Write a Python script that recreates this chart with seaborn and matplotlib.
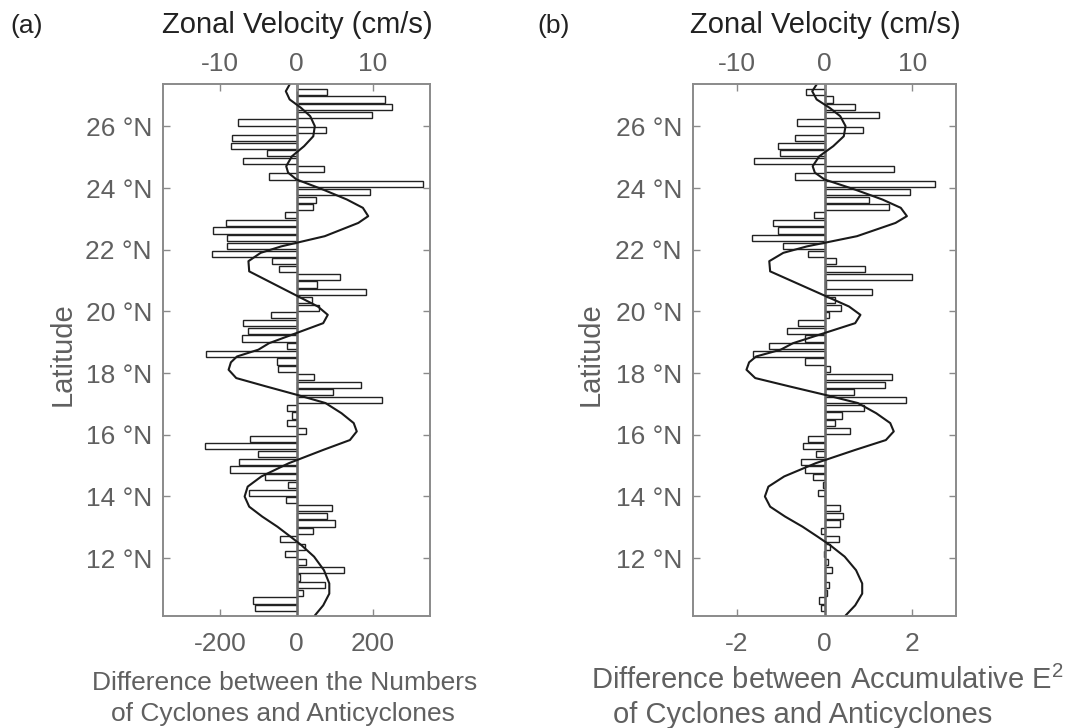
import numpy as np
import pandas as pd
import matplotlib
matplotlib.use("Agg")
import matplotlib.pyplot as plt
import seaborn as sns

# ---------------- data ----------------
# bar latitudes (0.25 deg bins, top to bottom)
latitude = np.round(27.125 - 0.25 * np.arange(68), 3)

# (a) difference between numbers of cyclones and anticyclones
diff_count = [81, 232, 250, 199, -153, 77, -168, -171, -77, -140,
              73, -73, 331, 193, 51, 44, -29, -184, -218, -182,
              -182, -221, -65, -45, 113, 54, 182, 41, 60, -67,
              -141, -126, -142, -24, -236, -50, -48, 46, 169, 95,
              225, -25, -11, -24, 25, -123, -241, -101, -152, -174,
              -83, -22, -125, -27, 92, 81, 101, 44, -43, 23,
              -29, 25, 125, 9, 75, 18, -113, -108]

# (b) difference between accumulative E^2
diff_e2 = [-0.42, 0.19, 0.69, 1.24, -0.63, 0.88, -0.67, -1.05, -1.02, -1.60,
           1.59, -0.67, 2.52, 1.95, 1.01, 1.48, -0.23, -1.18, -1.07, -1.66,
           -0.95, -0.37, 0.26, 0.93, 2.00, 0.04, 1.08, 0.24, 0.37, 0.10,
           -0.61, -0.85, -0.44, -1.27, -1.64, -0.44, 0.13, 1.53, 1.39, 0.67,
           1.85, 0.89, 0.40, 0.24, 0.58, -0.38, -0.50, -0.19, -0.54, -0.45,
           -0.27, -0.04, -0.15, 0.00, 0.36, 0.42, 0.36, -0.09, 0.33, 0.12,
           -0.02, 0.08, 0.18, 0.00, 0.10, 0.06, -0.13, -0.08]

# zonal velocity profile (cm/s)
vel_lat = [27.36, 27.14, 26.875, 26.6, 26.33, 26.01, 25.68, 25.36, 25.03, 24.71,
           24.5, 24.28, 23.95, 23.63, 23.36, 23.09, 22.87, 22.44, 22.11, 21.9,
           21.63, 21.3, 20.92, 20.49, 20.16, 19.89, 19.62, 19.3, 18.97, 18.76,
           18.54, 18.35, 18.11, 17.84, 17.57, 17.3, 17.03, 16.7, 16.38, 16.11,
           15.83, 15.51, 15.08, 14.65, 14.32, 14.0, 13.67, 13.35, 13.02, 12.7,
           12.43, 12.05, 11.61, 11.18, 10.85, 10.47, 10.14]
velocity = [-0.9, -1.4, -0.9, 0.6, 1.8, 2.4, 2.2, 1.0, -0.6, -1.35,
            -1.1, 0.0, 3.5, 6.6, 8.7, 9.4, 8.1, 3.7, -2.0, -4.7,
            -6.3, -6.2, -3.2, 0.2, 2.8, 4.1, 3.5, 0.0, -3.6, -5.0,
            -7.8, -8.6, -8.9, -7.9, -4.0, 0.0, 3.8, 5.9, 7.5, 7.9,
            7.0, 3.5, -1.0, -4.6, -6.4, -6.8, -6.2, -4.5, -2.5, -0.8,
            0.6, 2.3, 3.6, 4.3, 4.3, 3.5, 2.4]

lat_ticks = [12, 14, 16, 18, 20, 22, 24, 26]
lat_labels = [f"{v} °N" for v in lat_ticks]

# ---------------- style ----------------
sns.set_theme(style="white")
plt.rcParams["font.family"] = ["Liberation Sans", "DejaVu Sans"]
plt.rcParams["mathtext.fontset"] = "custom"
plt.rcParams["mathtext.rm"] = "Liberation Sans"
plt.rcParams["mathtext.it"] = "Liberation Sans:italic"
plt.rcParams["mathtext.bf"] = "Liberation Sans:bold"

FRAME = "#8a8a8a"
TICKC = "#606060"
DARK = "#222222"
FS = 19
W, H = 1066, 728

fig = plt.figure(figsize=(W / 100, H / 100), dpi=100)


def px(x, y):
    return x / W, 1 - y / H


def panel(rect, diff, xlim, xticks, vlim):
    ax = fig.add_axes(rect)
    df = pd.DataFrame({"lat": latitude, "diff": diff})
    sns.barplot(data=df, x="diff", y="lat", orient="h", native_scale=True,
                color="white", saturation=1, edgecolor=DARK, linewidth=1.0,
                width=0.8, errorbar=None, ax=ax)
    ax.axvline(0, color="#6a6a6a", lw=1.8, zorder=4)
    ax.set_xlim(*xlim)
    ax.set_ylim(10.125, 27.375)
    ax.set_xticks(xticks)
    ax.set_xticklabels([str(t) for t in xticks])
    ax.set_yticks(lat_ticks)
    ax.set_yticklabels(lat_labels)
    ax.tick_params(axis="both", direction="in", length=5, width=1,
                   color=FRAME, labelcolor=TICKC, labelsize=FS)
    ax.tick_params(axis="y", right=True, left=True, pad=8)
    ax.tick_params(axis="x", bottom=True, top=False, pad=11.5)
    ax.set_ylabel("")
    ax.set_xlabel("")
    for s in ax.spines.values():
        s.set_color(FRAME)
        s.set_linewidth(1.2)

    ax2 = ax.twiny()
    sns.lineplot(x=velocity, y=vel_lat, sort=False, estimator=None,
                 color="#1a1a1a", lw=1.5, ax=ax2)
    ax2.set_xlim(-vlim, vlim)
    ax2.set_ylim(10.125, 27.375)
    ax2.set_xticks([-10, 0, 10])
    ax2.set_xticklabels(["-10", "0", "10"])
    ax2.tick_params(axis="x", direction="in", length=5, width=1, color=FRAME,
                    labelcolor=TICKC, labelsize=FS, pad=5.5, top=True)
    ax2.set_xlabel("")
    ax2.set_ylabel("")
    for s in ax2.spines.values():
        s.set_color(FRAME)
        s.set_linewidth(1.2)
    return ax, ax2


panel([163 / W, 1 - 616 / H, 267 / W, 532 / H], diff_count,
      (-350, 350), [-200, 0, 200], 17.5)
panel([693 / W, 1 - 616 / H, 263 / W, 532 / H], diff_e2,
      (-3, 3), [-2, 0, 2], 15)

# panel letters
fig.text(*px(10, 33), "(a)", fontsize=19, color=DARK, va="baseline", ha="left")
fig.text(*px(537, 33), "(b)", fontsize=19, color=DARK, va="baseline", ha="left")

# top axis titles
fig.text(*px(297, 33), "Zonal Velocity (cm/s)", fontsize=21, color=DARK,
         va="baseline", ha="center")
fig.text(*px(825, 33), "Zonal Velocity (cm/s)", fontsize=21, color=DARK,
         va="baseline", ha="center")

# y labels
fig.text(*px(63, 354), "Latitude", fontsize=21, color=TICKC, rotation=90,
         va="center", ha="center")
fig.text(*px(591, 354), "Latitude", fontsize=21, color=TICKC, rotation=90,
         va="center", ha="center")

# bottom labels
fig.text(*px(285, 690), "Difference between the Numbers", fontsize=19,
         color=TICKC, va="baseline", ha="center")
fig.text(*px(283, 721), "of Cyclones and Anticyclones", fontsize=19,
         color=TICKC, va="baseline", ha="center")
fig.text(*px(827, 689), "Difference between Accumulative E$^{\\mathrm{2}}$",
         fontsize=21, color=TICKC, va="baseline", ha="center")
fig.text(*px(803, 723), "of Cyclones and Anticyclones", fontsize=21,
         color=TICKC, va="baseline", ha="center")

fig.savefig("out.png", dpi=100)
